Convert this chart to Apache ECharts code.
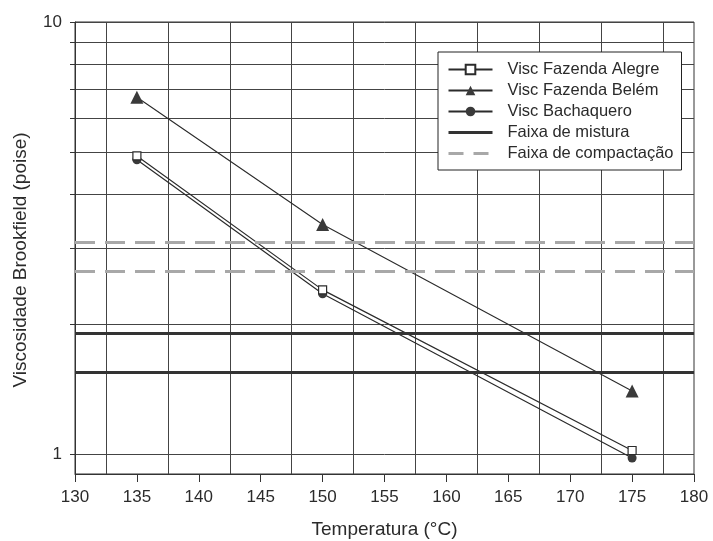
<!DOCTYPE html>
<html><head><meta charset="utf-8">
<script src="https://cdn.jsdelivr.net/npm/echarts@6/dist/echarts.min.js"></script>
<style>html,body{margin:0;padding:0;background:#fff}#c{width:713px;height:541px}</style>
</head><body><div id="c"></div>
<script>
// ---- data ----
const temperatures = [135, 150, 175];
const viscAlegre = [4.9, 2.4, 1.02];
const viscBelem = [6.7, 3.4, 1.4];
const viscBachaquero = [4.8, 2.35, 0.98];
const faixaMistura = [1.55, 1.9];
const faixaCompactacao = [2.65, 3.1];
const xTickValues = [130, 135, 140, 145, 150, 155, 160, 165, 170, 175, 180];
const xGridValues = [132.5, 137.5, 142.5, 147.5, 152.5, 157.5, 162.5, 167.5, 172.5, 177.5];
const yGridValues = [1, 2, 3, 4, 5, 6, 7, 8, 9, 10];
const yLabelValues = [1, 10];
const seriesNames = ['Visc Fazenda Alegre', 'Visc Fazenda Belém', 'Visc Bachaquero', 'Faixa de mistura', 'Faixa de compactação'];

const pairs = (xs, ys) => xs.map((x, i) => [x, ys[i]]);
const FONT = 'Liberation Sans';
const INK = '#2b2b2b';

const chart = echarts.init(document.getElementById('c'), null, {renderer: 'canvas'});
chart.setOption({
  animation: false,
  backgroundColor: '#fff',
  textStyle: {fontFamily: FONT},
  grid: {left: 75, right: 19, top: 22, bottom: 67, outerBoundsMode: 'none', containLabel: false,
         show: true, borderColor: '#333', borderWidth: 1, backgroundColor: 'transparent'},
  legend: {
    orient: 'vertical', left: 438, top: 52,
    itemWidth: 44, itemHeight: 12, itemGap: 4,
    padding: [9, 8, 8, 9],
    borderColor: '#222', borderWidth: 1, backgroundColor: '#fff',
    textStyle: {fontSize: 16.5, color: INK, fontFamily: FONT, padding: [0, 0, 0, 10]},
    data: [
      {name: seriesNames[0]},
      {name: seriesNames[1]},
      {name: seriesNames[2]},
      {name: seriesNames[3], itemStyle: {opacity: 0}, lineStyle: {width: 3, color: '#333'}},
      {name: seriesNames[4], itemStyle: {opacity: 0}, lineStyle: {width: 3, color: '#a8a8a8', type: [15, 10]}}
    ]
  },
  xAxis: [{
    type: 'value', min: xTickValues[0], max: xTickValues[xTickValues.length - 1], interval: 5,
    name: 'Temperatura (°C)', nameLocation: 'middle', nameGap: 46,
    nameTextStyle: {fontSize: 19, color: INK, fontFamily: FONT},
    axisLine: {show: true, onZero: false, lineStyle: {color: '#333', width: 1}},
    axisTick: {show: true, length: 8, inside: false, customValues: xTickValues, lineStyle: {color: '#333'}},
    axisLabel: {fontSize: 17, color: INK, margin: 15, fontFamily: FONT, customValues: xTickValues},
    splitLine: {show: false}
  }, {
    type: 'value', min: xTickValues[0], max: xTickValues[xTickValues.length - 1], position: 'bottom',
    axisLine: {show: false}, axisLabel: {show: false},
    axisTick: {show: false, customValues: xGridValues},
    splitLine: {show: true, lineStyle: {color: '#444', width: 1}}
  }],
  yAxis: {
    type: 'log', logBase: 10, min: 0.9, max: 10,
    name: 'Viscosidade Brookfield (poise)', nameLocation: 'middle', nameGap: 45,
    nameTextStyle: {fontSize: 19, color: INK, fontFamily: FONT, padding: [0, 24, 0, 0]},
    axisLine: {show: true, lineStyle: {color: '#333', width: 1}},
    axisTick: {show: true, length: 5, inside: false, customValues: yGridValues, lineStyle: {color: '#333'}},
    axisLabel: {fontSize: 17, color: INK, margin: 13, fontFamily: FONT, customValues: yLabelValues},
    splitLine: {show: true, lineStyle: {color: '#444', width: 1}}
  },
  series: [
    {
      name: seriesNames[0], type: 'line', data: pairs(temperatures, viscAlegre),
      symbol: 'rect', symbolSize: 8, z: 4,
      lineStyle: {color: INK, width: 1.2},
      itemStyle: {color: '#fff', borderColor: INK, borderWidth: 1.2}
    },
    {
      name: seriesNames[1], type: 'line', data: pairs(temperatures, viscBelem),
      symbol: 'triangle', symbolSize: 13, z: 4,
      lineStyle: {color: INK, width: 1.1},
      itemStyle: {color: '#3a3a3a', borderColor: '#3a3a3a', borderWidth: 0}
    },
    {
      name: seriesNames[2], type: 'line', data: pairs(temperatures, viscBachaquero),
      symbol: 'circle', symbolSize: 9, z: 3,
      lineStyle: {color: INK, width: 1.2},
      itemStyle: {color: '#3a3a3a', borderColor: '#3a3a3a', borderWidth: 0}
    },
    {
      name: seriesNames[3], type: 'line', data: [], symbol: 'none',
      lineStyle: {color: '#333', width: 3}, itemStyle: {color: '#333'},
      markLine: {
        silent: true, symbol: ['none', 'none'], label: {show: false},
        lineStyle: {color: '#333', width: 3, type: 'solid'},
        data: faixaMistura.map(v => ({yAxis: v}))
      }
    },
    {
      name: seriesNames[4], type: 'line', data: [], symbol: 'none',
      lineStyle: {color: '#a8a8a8', width: 3, type: [16, 10]}, itemStyle: {color: '#a8a8a8'},
      markLine: {
        silent: true, symbol: ['none', 'none'], label: {show: false},
        lineStyle: {color: '#a8a8a8', width: 3, type: [20, 10]},
        data: faixaCompactacao.map(v => ({yAxis: v}))
      }
    }
  ]
});
</script>
</body></html>
